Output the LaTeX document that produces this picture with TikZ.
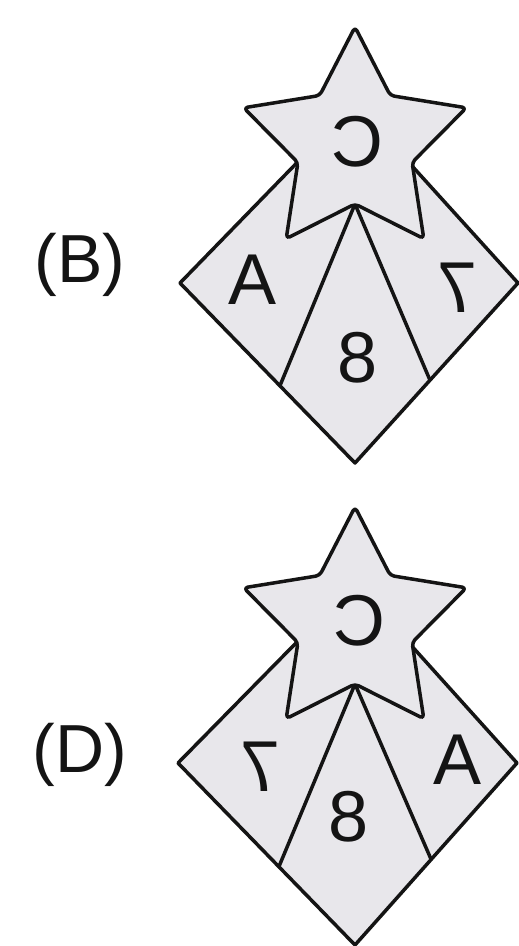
\documentclass[tikz,border=0pt]{standalone}
\usepackage{fontspec}
\setmainfont{Liberation Sans}
\usepackage{graphicx}
\usetikzlibrary{calc}
\definecolor{figfill}{RGB}{232,231,235}
\definecolor{ink}{RGB}{20,20,20}
\tikzset{
  shapeline/.style={draw=ink, line width=3.5pt, line join=round, fill=figfill},
  starline/.style={draw=ink, line width=3.5pt, line join=round, rounded corners=4pt, fill=figfill},
  divline/.style={draw=ink, line width=3.5pt, line cap=round},
  letter/.style={inner sep=0pt, outer sep=0pt, text=ink, font=\fontsize{72}{72}\selectfont},
  optlabel/.style={inner sep=0pt, outer sep=0pt, anchor=base, text=ink, font=\fontsize{68}{68}\selectfont},
}
\newcommand{\mirr}[1]{\scalebox{-1}[1]{#1}}
\begin{document}
\begin{tikzpicture}[x=1pt,y=-1pt]
\fill[white] (0,0) rectangle (519,946);
\useasboundingbox (0,0) rectangle (519,946);

% ---------- figure (B) ----------
\node[optlabel] (labB) at (80,282) {(B)};
\coordinate (bL) at (180,283);
\coordinate (bB) at (355,463);
\coordinate (bR) at (518,283);
\coordinate (bT) at (355,103);
\draw[shapeline] (bL) -- (bB) -- (bR) -- (bT) -- cycle;
\coordinate (bO1) at (355,27);
\coordinate (bI1) at (390.3,95.5);
\coordinate (bO2) at (466.3,107.8);
\coordinate (bI2) at (412.1,162.5);
\coordinate (bO3) at (423.8,238.7);
\coordinate (bI3) at (355,204);
\coordinate (bO4) at (286.2,238.7);
\coordinate (bI4) at (297.9,162.5);
\coordinate (bO5) at (243.7,107.8);
\coordinate (bI5) at (319.7,95.5);
\coordinate (bEl) at ($(bL)!0.571!(bB)$);
\coordinate (bEr) at ($(bB)!0.46!(bR)$);
\draw[divline] (bI3) -- (bEl);
\draw[divline] (bI3) -- (bEr);
\draw[starline] (bO1) -- (bI1) -- (bO2) -- (bI2) -- (bO3) -- (bI3) -- (bO4) -- (bI4) -- (bO5) -- (bI5) -- cycle;
\node[letter] (bC) at (357,142) {\mirr{C}};
\node[letter] (bA) at (253,280) {A};
\node[letter] (b8) at (358,358) {8};
\node[letter] (b7) at (457,288) {\mirr{7}};

% ---------- figure (D) ----------
\node[optlabel] (labD) at (80,772) {(D)};
\begin{scope}[shift={(0,480)}]
\coordinate (dL) at (178,283);
\coordinate (dB) at (355,465);
\coordinate (dR) at (517,283);
\coordinate (dT) at (355,103);
\draw[shapeline] (dL) -- (dB) -- (dR) -- (dT) -- cycle;
\coordinate (dO1) at (355,27);
\coordinate (dI1) at (390.3,95.5);
\coordinate (dO2) at (466.3,107.8);
\coordinate (dI2) at (412.1,162.5);
\coordinate (dO3) at (423.8,238.7);
\coordinate (dI3) at (355,204);
\coordinate (dO4) at (286.2,238.7);
\coordinate (dI4) at (297.9,162.5);
\coordinate (dO5) at (243.7,107.8);
\coordinate (dI5) at (319.7,95.5);
\coordinate (dEl) at ($(dL)!0.57!(dB)$);
\coordinate (dEr) at ($(dB)!0.47!(dR)$);
\draw[divline] (dI3) -- (dEl);
\draw[divline] (dI3) -- (dEr);
\draw[starline] (dO1) -- (dI1) -- (dO2) -- (dI2) -- (dO3) -- (dI3) -- (dO4) -- (dI4) -- (dO5) -- (dI5) -- cycle;
\end{scope}
\node[letter] (dC) at (359,621) {\mirr{C}};
\node[letter] (d7) at (260,767) {\mirr{7}};
\node[letter] (d8) at (349,817) {8};
\node[letter] (dA) at (458,760) {A};
\end{tikzpicture}
\end{document}
